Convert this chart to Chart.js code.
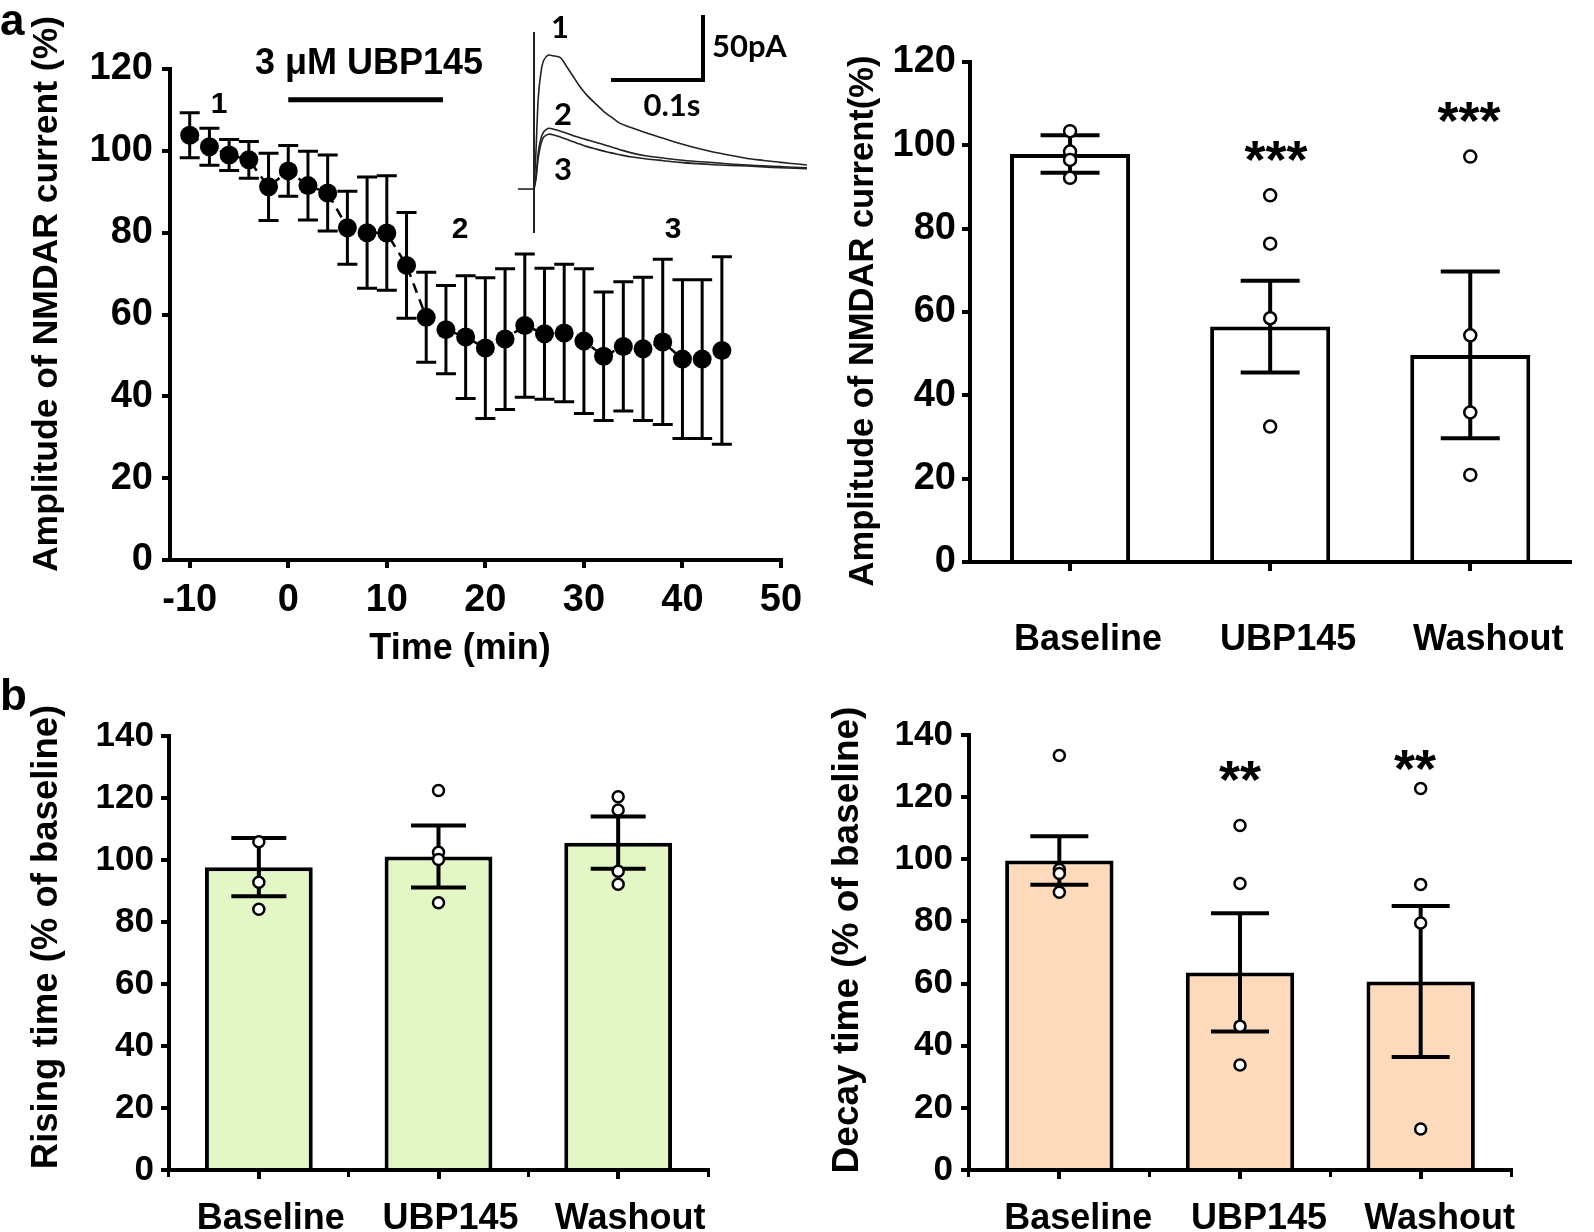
<!DOCTYPE html>
<html><head><meta charset="utf-8">
<script src="https://cdn.jsdelivr.net/npm/chart.js@4.4.1/dist/chart.umd.min.js"></script>
<style>
html,body{margin:0;padding:0;background:#fff;}
#wrap{position:relative;width:1594px;height:1232px;overflow:hidden;background:#fff;}
#wrap canvas{position:absolute;left:0;top:0;}
</style></head>
<body><div id="wrap">
<canvas id="cTL" width="1594" height="1232"></canvas>
<canvas id="cInset" width="1594" height="1232"></canvas>
<canvas id="cTR" width="1594" height="1232"></canvas>
<canvas id="cBL" width="1594" height="1232"></canvas>
<canvas id="cBR" width="1594" height="1232"></canvas>
</div>
<script>
// ---------------- DATA ----------------
// a (left): time course of NMDAR current amplitude (mean ± SEM)
const timeMin = [-10,-8,-6,-4,-2,0,2,4,6,8,10,12,14,16,18,20,22,24,26,28,30,32,34,36,38,40,42,44];
const ampMean = [103.8,101,99,97.8,91.2,95.1,91.5,89.7,81.2,80,79.9,72,59.3,56.3,54.5,51.8,54,57.3,55.3,55.5,53.5,49.8,52.2,51.6,53.3,49.1,49.1,51.2];
const ampSem  = [5.5,4.5,3.8,4.5,8.2,6.2,8.4,9.3,8.9,13.6,14,12.9,11,10.8,15,17.2,17.2,17.5,16,16.8,17.7,15.7,15.8,17.5,20.2,19.4,19.4,22.9];
const timeTicks = [-10,0,10,20,30,40,50];
const drugWindow = [0, 15.7];      // minutes, 3 µM UBP145 application
const drugLevel = 112.5;           // drawn level of the application bar (%)

// a (inset): example traces (time in s, current in pA)
const baselineT = [0, 0.0174];
const baselineI = [0, 0];
const artifactT = [0.0174, 0.0174];
const artifactI = [120.8, -33.8];
const traceT  = [0.0174,0.0196,0.022,0.025,0.028,0.033,0.038,0.046,0.053,0.060,0.067,0.075,0.086,0.096,0.104,0.111,0.122,0.140,0.158,0.176,0.194,0.212,0.230,0.249,0.267,0.285,0.300,0.314];
const trace1I = [0,30,70,90,99,103,102.5,101,94,86.5,79,72,64.5,58,54,50.5,47.5,43,39,35,31.5,28.5,26,23.5,22,20.5,19.5,18.5];
const trace2I = [0,10,28,39,44,46.7,46.2,44.5,42.8,41,39.5,37.8,35.6,33.5,31.8,30.2,28,25.4,23.8,22.3,21.2,20.3,19.3,18.5,17.8,17.2,16.8,16.4];
const trace3I = [0,8,24,35,40,42.1,41.8,40,38.2,36.3,34.6,32.6,30.5,28.6,27.4,26.3,24.8,23.1,21.8,20.5,19.5,18.7,18.2,17.7,17,16.4,16,15.6];
const scaleBarTime = 0.1;    // s
const scaleBarCurrent = 50;  // pA

// bar panels
const groups = ['Baseline','UBP145','Washout'];
const ampBarMean = [97.9,56.5,49.7];
const ampBarSem  = [4.5,11,20];
const ampPtsBaseline = [103.4,98.5,96.5,92.2];
const ampPtsUBP145   = [88,76.4,58.5,32.5];
const ampPtsWashout  = [97.3,54.4,35.9,20.9];

const riseMean = [97.7,101.1,105.6];
const riseSem  = [9.4,10,8.4];
const risePtsBaseline = [105.9,92.8,84.1];
const risePtsUBP145   = [122.4,102.5,100.2,86.2];
const risePtsWashout  = [120.4,116.1,96.4,92.2];

const decayMean = [99.6,63.6,60.7];
const decaySem  = [7.8,19,24.3];
const decayPtsBaseline = [133.4,96.7,95.4,89.4];
const decayPtsUBP145   = [110.9,92.2,46.3,33.8];
const decayPtsWashout  = [122.8,91.9,79.5,13.2];

// ---------------- HELPERS ----------------
const FONT = "'Liberation Sans', Arial, Helvetica, sans-serif";
const INSET_FONT = "Lato, 'Open Sans', 'Liberation Sans', sans-serif";
const W = 1594, H = 1232, YW = 100, XH = 130;
Chart.defaults.font.family = FONT;
Chart.defaults.color = '#000';

function pad(area){ return {left: area.l - YW, top: area.t, right: W - area.r, bottom: H - area.b - XH}; }
function tickFont(size){ return {family: FONT, size: size, weight: 'bold'}; }
function yAxis(min, max, step, size, padding){
  return {
    type:'linear', min:min, max:max, position:'left',
    ticks:{stepSize:step, font:tickFont(size), color:'#000', padding:padding},
    grid:{display:true, drawOnChartArea:false, drawTicks:true, tickLength:8, color:'#000', lineWidth:4},
    border:{display:true, color:'#000', width:4},
    afterFit(s){ s.width = YW; }
  };
}
function catAxis(size, padding, tickLen, labelOffset){
  return {
    type:'category', position:'bottom', offset:true, weight:1,
    ticks:{font:tickFont(size), color:'#000', padding:padding, maxRotation:0, autoSkip:false, labelOffset:labelOffset},
    grid:{display:true, offset:false, drawOnChartArea:false, drawTicks:true, tickLength:tickLen, color:'#000', lineWidth:4},
    border:{display:true, color:'#000', width:4},
    afterFit(s){ s.height = XH; }
  };
}
function boundaryAxis(tickLen){
  return {
    type:'category', position:'bottom', offset:true, weight:0,
    ticks:{display:false},
    grid:{display:true, offset:true, drawOnChartArea:false, drawTicks:true, tickLength:tickLen, color:'#000', lineWidth:3},
    border:{display:false},
    afterFit(s){ s.height = 0; }
  };
}
function textPlugin(items){
  return { id:'texts', afterDraw(chart){
    const ctx = chart.ctx;
    items.forEach(it => {
      ctx.save();
      ctx.font = 'bold ' + it.size + 'px ' + (it.family || FONT);
      ctx.fillStyle = '#000';
      ctx.textAlign = it.align || 'center';
      ctx.textBaseline = it.baseline || 'middle';
      ctx.translate(it.x, it.y);
      if (it.rot) ctx.rotate(it.rot);
      ctx.fillText(it.text, 0, 0);
      ctx.restore();
    });
  }};
}
function errorBarPlugin(cfg){
  function draw(chart){
    const ctx = chart.ctx, xs = chart.scales.x, ys = chart.scales.y;
    ctx.save();
    ctx.strokeStyle = '#000'; ctx.lineWidth = cfg.lineWidth; ctx.lineCap = 'butt';
    cfg.xs.forEach((xv, i) => {
      const x = xs.getPixelForValue(xv);
      const yHi = ys.getPixelForValue(cfg.mean[i] + cfg.sem[i]);
      const yLo = ys.getPixelForValue(cfg.mean[i] - cfg.sem[i]);
      const h = cfg.cap / 2;
      ctx.beginPath();
      ctx.moveTo(x, yHi); ctx.lineTo(x, yLo);
      ctx.moveTo(x - h, yHi); ctx.lineTo(x + h, yHi);
      ctx.moveTo(x - h, yLo); ctx.lineTo(x + h, yLo);
      ctx.stroke();
    });
    ctx.restore();
  }
  return { id:'errorBars',
    beforeDatasetDraw(chart, args){ if (cfg.before && args.index === cfg.index) draw(chart); },
    afterDatasetDraw(chart, args){ if (!cfg.before && args.index === cfg.index) draw(chart); }
  };
}
function pointsFor(a, b, c){
  const out = [];
  a.forEach(v => out.push({x: groups[0], y: v}));
  b.forEach(v => out.push({x: groups[1], y: v}));
  c.forEach(v => out.push({x: groups[2], y: v}));
  return out;
}
const baseOpts = { responsive:false, animation:false, events:[], devicePixelRatio:1,
  plugins:{legend:{display:false}, tooltip:{enabled:false}, title:{display:false}} };

// ---------------- PANEL a (left): time course ----------------
const areaTL = {l:170, r:781, t:69, b:560};
new Chart(document.getElementById('cTL'), {
  type:'line',
  data:{ datasets:[
    { label:'NMDAR amplitude', data: timeMin.map((t,i)=>({x:t, y:ampMean[i]})),
      borderColor:'#000', borderWidth:2.5, borderDash:[10,7], pointRadius:9.5,
      pointBackgroundColor:'#000', pointBorderColor:'#000', pointBorderWidth:0, tension:0 },
    { label:'3 μM UBP145', data: drugWindow.map(t=>({x:t, y:drugLevel})),
      borderColor:'#000', borderWidth:5, pointRadius:0, borderCapStyle:'butt' }
  ]},
  options: Object.assign({}, baseOpts, {
    layout:{padding: pad(areaTL)},
    scales:{
      x:{ type:'linear', min:-12, max:50, position:'bottom',
          afterBuildTicks(s){ s.ticks = timeTicks.map(v=>({value:v})); },
          ticks:{font:tickFont(38), color:'#000', padding:10},
          grid:{display:true, drawOnChartArea:false, drawTicks:true, tickLength:8, color:'#000', lineWidth:4},
          border:{display:true, color:'#000', width:4},
          afterFit(s){ s.height = XH; } },
      y: yAxis(0, 120, 20, 38, 9)
    }
  }),
  plugins:[
    errorBarPlugin({index:0, before:true, xs: timeMin, mean: ampMean, sem: ampSem, cap:20, lineWidth:3}),
    textPlugin([
      {text:'a', x:0, y:35, size:44, align:'left', baseline:'alphabetic'},
      {text:'Amplitude of NMDAR current (%)', x:47, y:294, size:35.5, rot:-Math.PI/2},
      {text:'Time (min)', x:460, y:649, size:36},
      {text:'3 μM UBP145', x:369, y:64, size:36},
      {text:'1', x:219, y:105, size:30},
      {text:'2', x:460, y:230, size:30},
      {text:'3', x:673, y:230, size:30}
    ])
  ]
});

// ---------------- PANEL a (inset): example traces ----------------
const areaIn = {l:518, r:807, t:15, b:233};
const sbT0 = 0.101, sbI0 = 83.8;
const traceStyle = {borderColor:'#222', borderWidth:1.6, pointRadius:0, tension:0.3};
new Chart(document.getElementById('cInset'), {
  type:'line',
  data:{ datasets:[
    Object.assign({label:'baseline', data: baselineT.map((t,i)=>({x:t,y:baselineI[i]}))}, traceStyle, {tension:0}),
    Object.assign({label:'artifact', data: artifactT.map((t,i)=>({x:t,y:artifactI[i]}))}, traceStyle, {tension:0, borderWidth:2}),
    Object.assign({label:'1', data: traceT.map((t,i)=>({x:t,y:trace1I[i]}))}, traceStyle),
    Object.assign({label:'2', data: traceT.map((t,i)=>({x:t,y:trace2I[i]}))}, traceStyle),
    Object.assign({label:'3', data: traceT.map((t,i)=>({x:t,y:trace3I[i]}))}, traceStyle),
    { label:'scale bar', data:[{x:sbT0, y:sbI0},{x:sbT0+scaleBarTime, y:sbI0},{x:sbT0+scaleBarTime, y:sbI0+scaleBarCurrent}],
      borderColor:'#000', borderWidth:4, pointRadius:0, tension:0, borderJoinStyle:'miter', borderCapStyle:'butt' }
  ]},
  options: Object.assign({}, baseOpts, {
    layout:{padding:{left:areaIn.l, top:areaIn.t, right:W-areaIn.r, bottom:H-areaIn.b}},
    scales:{
      x:{type:'linear', min:0, max:0.314, display:false},
      y:{type:'linear', min:-33.8, max:133.8, display:false}
    }
  }),
  plugins:[ textPlugin([
    {text:'1', x:560, y:28, size:31, family:INSET_FONT},
    {text:'2', x:563, y:115, size:31, family:INSET_FONT},
    {text:'3', x:563, y:170, size:31, family:INSET_FONT},
    {text:'50pA', x:712, y:47, size:31, align:'left', family:INSET_FONT},
    {text:'0.1s', x:672, y:106, size:31, family:INSET_FONT}
  ])]
});

// ---------------- bar panel builder ----------------
function barPanel(id, area, cfg){
  const scales = { x: catAxis(cfg.labelSize, cfg.labelPad, 9, cfg.labelOffset), y: yAxis(0, cfg.max, 20, cfg.tickSize, cfg.yPad) };
  if (cfg.boundary) scales.x2 = boundaryAxis(7);
  new Chart(document.getElementById(id), {
    type:'bar',
    data:{ labels: groups, datasets:[
      { type:'bar', label:'mean', data: cfg.mean, xAxisID:'x', yAxisID:'y',
        backgroundColor: cfg.fill, borderColor:'#000', borderWidth:4,
        barPercentage:0.6, categoryPercentage:1, order:1 },
      { type:'scatter', label:'cells', data: cfg.points, xAxisID:'x', yAxisID:'y',
        pointRadius: cfg.r, pointBackgroundColor:'#fff', pointBorderColor:'#000', pointBorderWidth:2.5, order:0 }
    ]},
    options: Object.assign({}, baseOpts, { layout:{padding: pad(area)}, scales: scales }),
    plugins:[ errorBarPlugin({index:0, before:false, xs: groups, mean: cfg.mean, sem: cfg.sem, cap: cfg.cap, lineWidth:4}),
              textPlugin(cfg.texts) ]
  });
}

// ---------------- PANEL a (right) ----------------
barPanel('cTR', {l:970, r:1591, t:62, b:562}, {
  mean: ampBarMean, sem: ampBarSem, points: pointsFor(ampPtsBaseline, ampPtsUBP145, ampPtsWashout),
  fill:'#ffffff', max:120, tickSize:38, yPad:6, labelSize:36, labelPad:47, labelOffset:18, cap:59, r:6, boundary:false,
  texts:[
    {text:'Amplitude of NMDAR current(%)', x:863, y:321, size:34.5, rot:-Math.PI/2},
    {text:'***', x:1276, y:178, size:54, baseline:'alphabetic'},
    {text:'***', x:1469, y:139, size:54, baseline:'alphabetic'}
  ]
});

// ---------------- PANEL b (left) ----------------
barPanel('cBL', {l:169, r:708, t:736, b:1170}, {
  mean: riseMean, sem: riseSem, points: pointsFor(risePtsBaseline, risePtsUBP145, risePtsWashout),
  fill:'#e2f7c5', max:140, tickSize:35, yPad:7, labelSize:36, labelPad:18, labelOffset:12, cap:55, r:5.5, boundary:true,
  texts:[
    {text:'b', x:0, y:710, size:44, align:'left', baseline:'alphabetic'},
    {text:'Rising time (% of baseline)', x:47, y:937, size:36.5, rot:-Math.PI/2}
  ]
});

// ---------------- PANEL b (right) ----------------
barPanel('cBR', {l:969, r:1511, t:735, b:1170}, {
  mean: decayMean, sem: decaySem, points: pointsFor(decayPtsBaseline, decayPtsUBP145, decayPtsWashout),
  fill:'#fcdabb', max:140, tickSize:35, yPad:8, labelSize:36, labelPad:18, labelOffset:19, cap:58, r:5.5, boundary:true,
  texts:[
    {text:'Decay time (% of baseline)', x:848, y:940, size:37, rot:-Math.PI/2},
    {text:'**', x:1240, y:798, size:54, baseline:'alphabetic'},
    {text:'**', x:1415, y:787, size:54, baseline:'alphabetic'}
  ]
});
</script>
</body></html>
